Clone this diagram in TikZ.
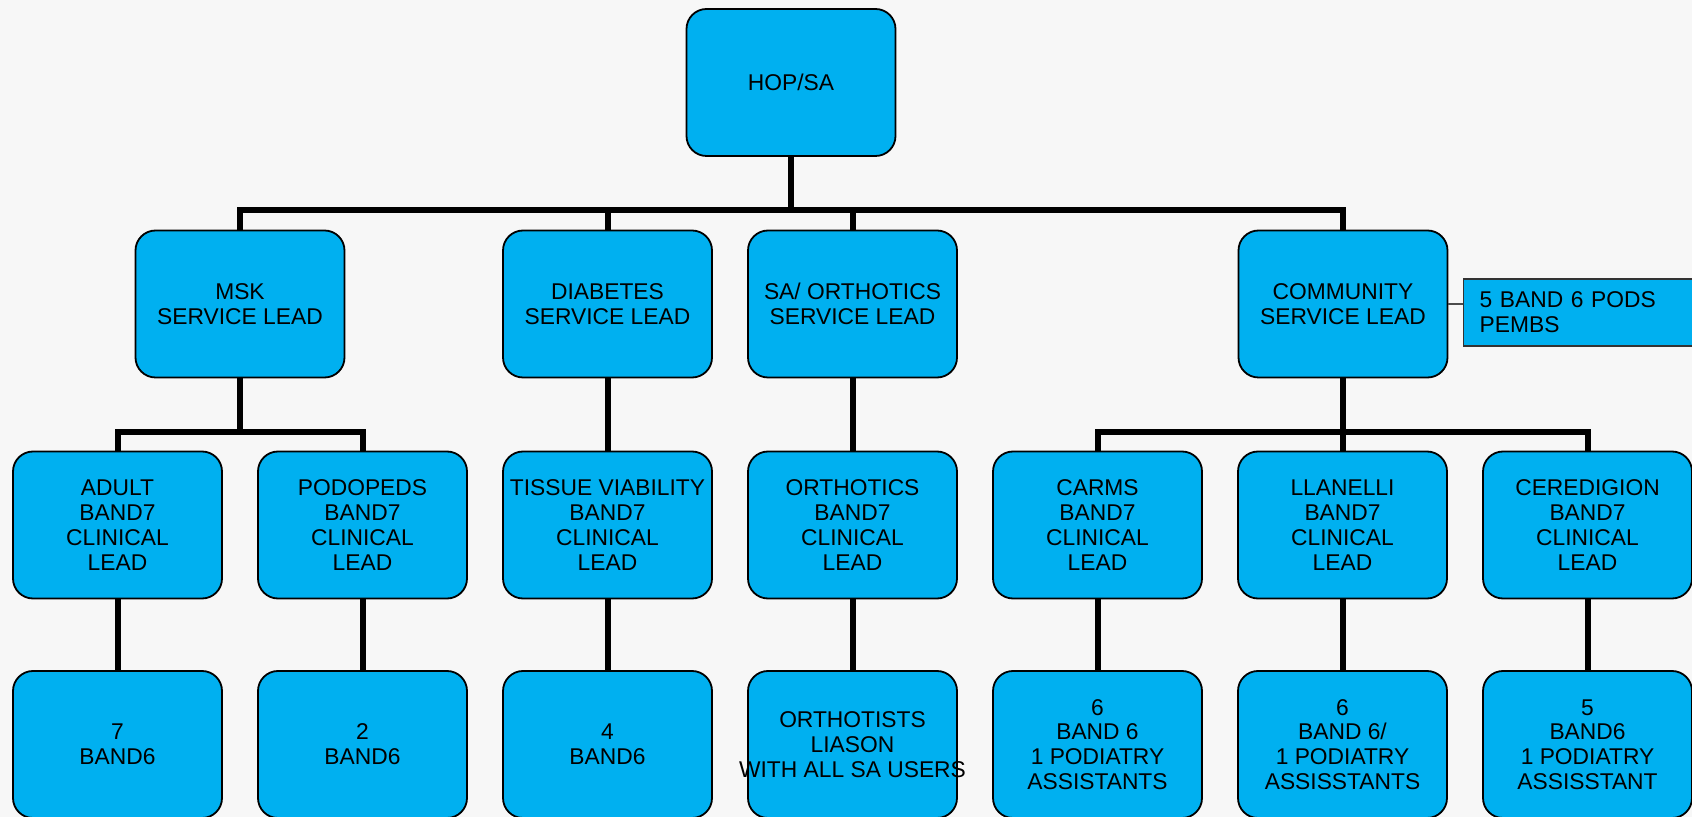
\documentclass[tikz,border=0pt]{standalone}
\usepackage{fontspec}
\setmainfont{Liberation Sans}
\usetikzlibrary{calc}
\definecolor{boxblue}{RGB}{0,176,240}
\definecolor{paper}{RGB}{247,247,247}
\begin{document}
\begin{tikzpicture}[x=0.5pt,y=-0.5pt,font=\fontsize{11.4}{12.4}\selectfont,
	box/.style={draw=black,line width=0.9pt,fill=boxblue,rounded corners=10pt,minimum width=104.5pt,minimum height=73.5pt,align=center,inner sep=0pt},
	sidebox/.style={draw=black!80,line width=0.7pt,fill=boxblue,minimum height=33.5pt,text width=130pt,align=left,inner xsep=8pt,anchor=west},
	conn/.style={line width=3pt}]
	\fill[paper] (0,0) rectangle (1692,817);
	\clip (0,0) rectangle (1692,817);
	\node[box] (hop) at (791,82.5) {HOP/SA};
	% second row
	\node[box] (msk) at (240,304) {MSK\\SERVICE LEAD};
	\node[box] (diab) at (607.5,304) {DIABETES\\SERVICE LEAD};
	\node[box] (orth) at (852.5,304) {SA/ ORTHOTICS\\SERVICE LEAD};
	\node[box] (comm) at (1343,304) {COMMUNITY\\SERVICE LEAD};
	\node[sidebox] (side) at (1463,312.5) {5 BAND 6 PODS\\PEMBS};
	% clinical leads and staff
	\foreach \n/\i/\t in {adult/0/{ADULT\\BAND7\\CLINICAL\\LEAD},podo/1/{PODOPEDS\\BAND7\\CLINICAL\\LEAD},
		tiss/2/{TISSUE VIABILITY\\BAND7\\CLINICAL\\LEAD},orto/3/{ORTHOTICS\\BAND7\\CLINICAL\\LEAD},
		carms/4/{CARMS\\BAND7\\CLINICAL\\LEAD},llan/5/{LLANELLI\\BAND7\\CLINICAL\\LEAD},
		cere/6/{CEREDIGION\\BAND7\\CLINICAL\\LEAD}}{
		\node[box] (\n) at (117.5+245*\i,525) {\t};}
	\foreach \n/\i/\t in {adultb/0/{7\\BAND6},podob/1/{2\\BAND6},tissb/2/{4\\BAND6},
		ortob/3/{ORTHOTISTS\\LIASON\\\makebox[0pt]{WITH ALL SA USERS}},
		carmsb/4/{6\\BAND 6\\1 PODIATRY\\ASSISTANTS},llanb/5/{6\\BAND 6/\\1 PODIATRY\\ASSISSTANTS},
		cereb/6/{5\\BAND6\\1 PODIATRY\\ASSISSTANT}}{
		\node[box] (\n) at (117.5+245*\i,744.5) {\t};}
	\foreach \n in {msk,diab,orth,comm}{
		\draw[conn] (hop.south) |- ($(\n.north)+(0,-20)$) -- (\n.north);}
	\foreach \n in {adult,podo}{
		\draw[conn] (msk.south) |- ($(\n.north)+(0,-19)$) -- (\n.north);}
	\foreach \n in {carms,llan,cere}{
		\draw[conn] (comm.south) |- ($(\n.north)+(0,-19)$) -- (\n.north);}
	\draw[conn] (diab.south) -- (tiss.north);
	\draw[conn] (orth.south) -- (orto.north);
	\foreach \n in {adult,podo,tiss,orto,carms,llan,cere}{
		\draw[conn] (\n.south) -- (\n b.north);}
	\draw[black!70,line width=0.6pt] (comm.east) -- (comm.east -| side.west);
\end{tikzpicture}
\end{document}
